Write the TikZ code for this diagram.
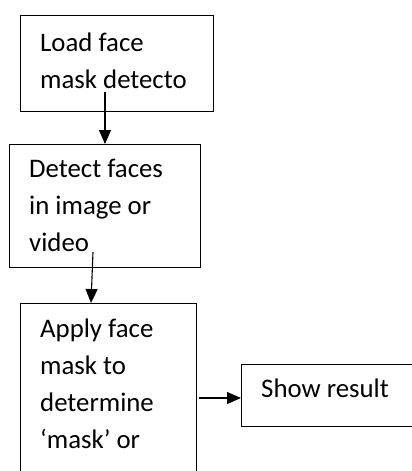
\documentclass[tikz,border=0pt]{standalone}
\usepackage{fontspec}
\setmainfont{Carlito}
\usetikzlibrary{arrows.meta}
\begin{document}
\begin{tikzpicture}[x=1pt,y=-1pt,
  boxstyle/.style={draw=black,line width=1.1pt,rectangle,anchor=north west,inner sep=0pt},
  txt/.style={anchor=north west,inner sep=0pt,align=left,font=\fontsize{26.8}{37}\selectfont},
  arr/.style={draw=black,line width=1.1pt,-{Triangle[length=14pt,width=12pt]}}]
\useasboundingbox (0,0) rectangle (412,471);
\clip (0,0) rectangle (412,471);
\node[boxstyle,minimum width=193pt,minimum height=96pt] (box1) at (20,15) {};
\node[boxstyle,minimum width=191pt,minimum height=123pt] (box2) at (9,144) {};
\node[boxstyle,minimum width=176pt,minimum height=200pt] (box3) at (20,303) {};
\node[boxstyle,minimum width=200pt,minimum height=62pt] (box4) at (241,364) {};
\node[txt] (t1) at (40,25.5) {\strut Load face\\mask detecto};
\node[txt] (t2) at (29,151.5) {\strut Detect faces\\in image or\\video};
\node[txt] (t3) at (40,311.5) {\strut Apply face\\mask to\\determine\\‘mask’ or};
\node[txt] (t4) at (261,371.5) {\strut Show result};
\coordinate (a1) at (105,92);
\coordinate (a2) at (93,252);
\coordinate (a3) at (199,398);
\draw[arr] (a1) -- (a1 |- box2.north);
\draw[arr] (a2) -- ([xshift=71pt]box3.north west);
\draw[arr] (a3) -- (a3 -| box4.west);
\end{tikzpicture}
\end{document}
